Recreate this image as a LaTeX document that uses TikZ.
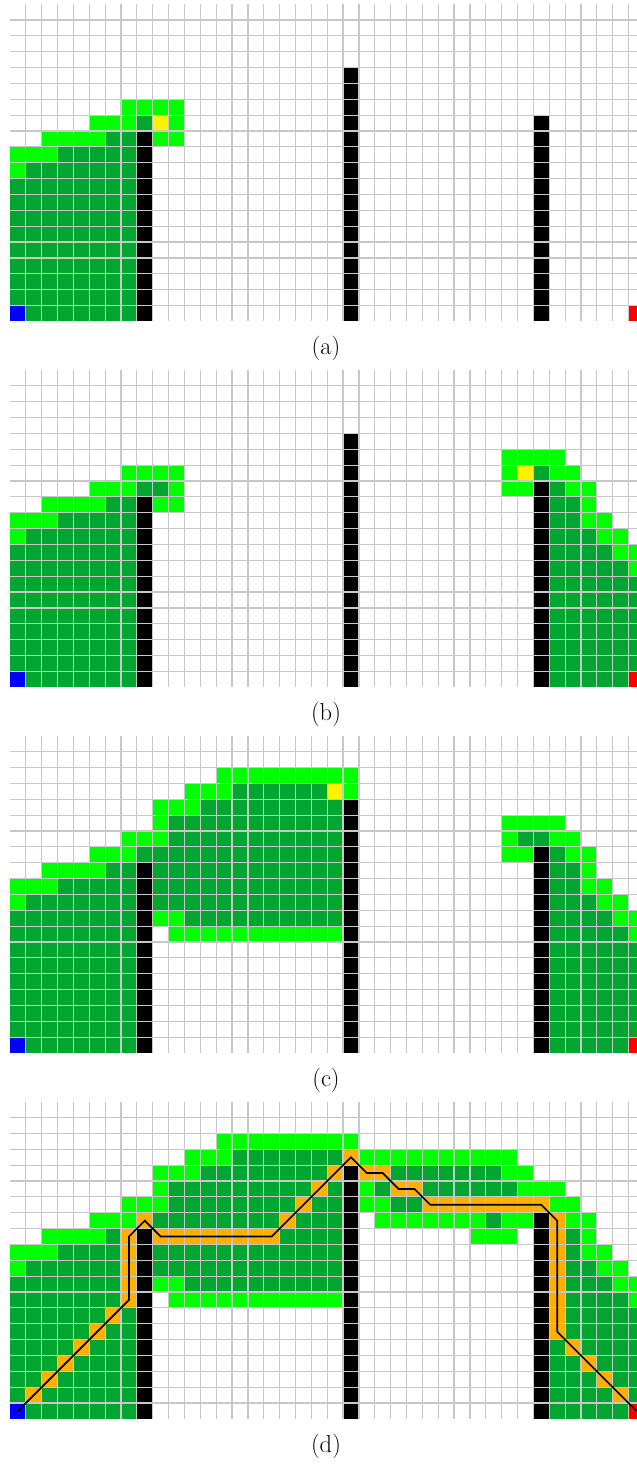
\documentclass[tikz,border=0pt]{standalone}
\usepackage{tikz}
\definecolor{lgreen}{RGB}{0,255,0}
\definecolor{dgreen}{RGB}{0,166,48}
\definecolor{pathorange}{RGB}{255,176,0}
\definecolor{gridgray}{RGB}{200,200,200}
\def\CS{15.86}
\newcommand\gcells[3]{\foreach \k in {#3}{\fill[#1] ({\k*\CS},{#2*\CS}) rectangle ++(\CS,\CS);}}
\newcommand\pleftA{%
 \gcells{lgreen}{6}{7,8,9,10}
 \gcells{lgreen}{7}{5,6,7,10}
 \gcells{dgreen}{7}{8}
 \gcells{lgreen}{8}{2,3,4,5,9,10}
 \gcells{dgreen}{8}{6,7}
 \gcells{lgreen}{9}{0,1,2}
 \gcells{dgreen}{9}{3,...,7}
 \gcells{lgreen}{10}{0}
 \gcells{dgreen}{10}{1,...,7}
 \foreach \j in {11,...,18}{\gcells{dgreen}{\j}{0,...,7}}
 \gcells{dgreen}{19}{1,...,7}
}
\newcommand\prightB{%
 \gcells{lgreen}{5}{31,32,33,34}
 \gcells{lgreen}{6}{31,34,35}
 \gcells{dgreen}{6}{33}
 \gcells{lgreen}{7}{31,32,35,36}
 \gcells{dgreen}{7}{34}
 \gcells{dgreen}{8}{34,35}
 \gcells{lgreen}{8}{36}
 \gcells{dgreen}{9}{34,35}
 \gcells{lgreen}{9}{36,37}
 \gcells{dgreen}{10}{34,35,36}
 \gcells{lgreen}{10}{37,38}
 \gcells{dgreen}{11}{34,...,37}
 \gcells{lgreen}{11}{38,39}
 \gcells{dgreen}{12}{34,...,38}
 \gcells{lgreen}{12}{39}
 \foreach \j in {13,...,18}{\gcells{dgreen}{\j}{34,...,39}}
 \gcells{dgreen}{19}{34,...,38}
}
\newcommand\pleftC{%
 \gcells{lgreen}{2}{13,...,21}
 \gcells{lgreen}{3}{11,12,13,21}
 \gcells{dgreen}{3}{14,...,19}
 \gcells{lgreen}{4}{9,10,11}
 \gcells{dgreen}{4}{12,...,20}
 \gcells{lgreen}{5}{9}
 \gcells{dgreen}{5}{10,...,20}
 \gcells{lgreen}{6}{7,8,9}
 \gcells{dgreen}{6}{10,...,20}
 \gcells{lgreen}{7}{5,6,7}
 \gcells{dgreen}{7}{8,...,20}
 \gcells{lgreen}{8}{2,3,4,5}
 \gcells{dgreen}{8}{6,7}
 \gcells{dgreen}{8}{9,...,20}
 \gcells{lgreen}{9}{0,1,2}
 \gcells{dgreen}{9}{3,...,7}
 \gcells{dgreen}{9}{9,...,20}
 \gcells{lgreen}{10}{0}
 \gcells{dgreen}{10}{1,...,7}
 \gcells{dgreen}{10}{9,...,20}
 \gcells{dgreen}{11}{0,...,7}
 \gcells{lgreen}{11}{9,10}
 \gcells{dgreen}{11}{11,...,20}
 \gcells{dgreen}{12}{0,...,7}
 \gcells{lgreen}{12}{10,...,20}
 \foreach \j in {13,...,18}{\gcells{dgreen}{\j}{0,...,7}}
 \gcells{dgreen}{19}{1,...,7}
}
\newcommand\pwalls{%
 \fill[black] ({8*\CS},{8*\CS}) rectangle ({9*\CS},{20*\CS});
 \fill[black] ({21*\CS},{4*\CS}) rectangle ({22*\CS},{20*\CS});
 \fill[black] ({33*\CS},{7*\CS}) rectangle ({34*\CS},{20*\CS});
 \gcells{blue}{19}{0}
 \gcells{red}{19}{39}
}
\newcommand\pgridlines{%
 \foreach \k in {1,...,39}{\draw[gridline] ({\k*\CS},0) -- ({\k*\CS},{20*\CS});}
 \foreach \j in {1,...,19}{\draw[gridline] (0,{\j*\CS}) -- ({40*\CS},{\j*\CS});}
}
\begin{document}
\begin{tikzpicture}[x=1pt,y=-1pt,
  gridline/.style={draw=gridgray,line width=1.2pt},
  pathline/.style={draw=black,line width=1.7pt},
  lab/.style={font=\fontsize{24.5}{29}\selectfont,anchor=base}]
\useasboundingbox (0,0) rectangle (637,1468);
\clip (0,0) rectangle (637,1468);
\fill[white] (0,0) rectangle (637,1468);
% ---------- (a)
\begin{scope}[shift={(10,4.14)}]
 \pleftA
 \gcells{yellow}{7}{9}
 \pwalls
 \pgridlines
 \node[lab] (la) at (316,350.7) {(a)};
\end{scope}
% ---------- (b)
\begin{scope}[shift={(10,369.99)}]
 \pleftA
 \gcells{dgreen}{7}{9}
 \prightB
 \gcells{yellow}{6}{32}
 \pwalls
 \pgridlines
 \node[lab] (lb) at (316,350.7) {(b)};
\end{scope}
% ---------- (c)
\begin{scope}[shift={(10,735.84)}]
 \pleftC
 \gcells{yellow}{3}{20}
 \prightB
 \gcells{dgreen}{6}{32}
 \pwalls
 \pgridlines
 \node[lab] (lc) at (316,350.7) {(c)};
\end{scope}
% ---------- (d)
\begin{scope}[shift={(10,1101.69)}]
 \pleftC
 \gcells{dgreen}{3}{20}
 \prightB
 \gcells{dgreen}{6}{32}
 \gcells{lgreen}{3}{22,...,31}
 \gcells{dgreen}{4}{24,...,30}
 \gcells{lgreen}{4}{31,32}
 \gcells{lgreen}{5}{22}
 \gcells{dgreen}{5}{23}
 \gcells{dgreen}{5}{26,...,31}
 \gcells{lgreen}{6}{22,23}
 \gcells{dgreen}{6}{24,25}
 \gcells{lgreen}{7}{23,...,29}
 \gcells{dgreen}{7}{30}
 \gcells{lgreen}{8}{29,30,31}
 % path cells
 \gcells{pathorange}{18}{1}
 \gcells{pathorange}{17}{2}
 \gcells{pathorange}{16}{3}
 \gcells{pathorange}{15}{4}
 \gcells{pathorange}{14}{5}
 \gcells{pathorange}{13}{6}
 \foreach \j in {8,...,12}{\gcells{pathorange}{\j}{7}}
 \gcells{pathorange}{7}{8}
 \gcells{pathorange}{8}{9,...,16}
 \gcells{pathorange}{7}{17}
 \gcells{pathorange}{6}{18}
 \gcells{pathorange}{5}{19}
 \gcells{pathorange}{4}{20}
 \gcells{pathorange}{3}{21}
 \gcells{pathorange}{4}{22,23}
 \gcells{pathorange}{5}{24,25}
 \gcells{pathorange}{6}{26,...,33}
 \foreach \j in {7,...,14}{\gcells{pathorange}{\j}{34}}
 \gcells{pathorange}{15}{35}
 \gcells{pathorange}{16}{36}
 \gcells{pathorange}{17}{37}
 \gcells{pathorange}{18}{38}
 \pwalls
 \pgridlines
 \coordinate (start) at ({0.5*\CS},{19.5*\CS});
 \coordinate (goal) at ({39.5*\CS},{19.5*\CS});
 \draw[pathline] (start) -- ({7.5*\CS},{12.5*\CS}) -- ({7.5*\CS},{8.5*\CS})
   -- ({8.5*\CS},{7.5*\CS}) -- ({9.5*\CS},{8.5*\CS}) -- ({16.5*\CS},{8.5*\CS})
   -- ({21.5*\CS},{3.5*\CS}) -- ({22.5*\CS},{4.5*\CS}) -- ({23.5*\CS},{4.5*\CS})
   -- ({24.5*\CS},{5.5*\CS}) -- ({25.5*\CS},{5.5*\CS}) -- ({26.5*\CS},{6.5*\CS})
   -- ({33.5*\CS},{6.5*\CS}) -- ({34.5*\CS},{7.5*\CS}) -- ({34.5*\CS},{14.5*\CS})
   -- (goal);
 \node[lab] (ld) at (316,350.7) {(d)};
\end{scope}
\end{tikzpicture}
\end{document}
